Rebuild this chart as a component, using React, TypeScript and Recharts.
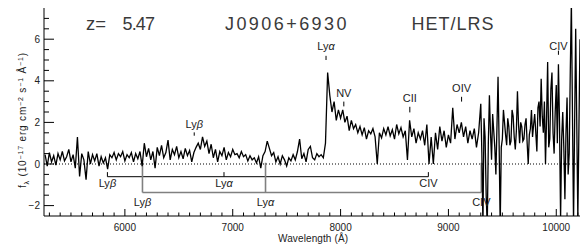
import React from "react"
import { LineChart, Line, XAxis, YAxis, ReferenceLine, ReferenceDot } from "recharts"

// spectrum: [wavelength (A), flux (1e-17 erg/cm2/s/A)]
const spectrumBlue: [number, number][] = [
  [5260, 0.45], [5280, -0.1], [5300, 0.55], [5320, 0.1], [5340, 0.4], [5360, -0.05],
  [5380, 0.5], [5400, 0.2], [5420, 0.6], [5440, 0.15], [5460, 0.35], [5480, 0.7],
  [5500, 0.1], [5520, 0.45], [5540, -0.2], [5560, 1.3], [5580, -0.6], [5600, 0.5],
  [5620, 0.2], [5640, -0.75], [5660, 0.6], [5680, 0.0], [5700, 0.45], [5720, 0.15],
  [5740, 0.5], [5760, -0.1], [5780, 0.35], [5800, 0.05], [5820, 0.3], [5840, -0.25],
]

const spectrumForest: [number, number][] = [
  [5860, 0.45], [5880, 0.3], [5900, 0.55], [5920, 0.2], [5940, 0.5], [5960, 0.35],
  [5980, 0.6], [6000, 0.15], [6020, 0.45], [6040, 0.3], [6060, 0.55], [6080, 0.1],
  [6100, 0.5], [6120, 0.25], [6140, 0.6], [6160, -0.1], [6180, 1.0], [6200, 0.35],
  [6220, 0.75], [6240, 0.2], [6260, 0.6], [6280, -0.2], [6300, 0.8], [6320, 0.4],
  [6340, 0.9], [6360, 0.3], [6380, 0.55], [6400, 1.15], [6420, 0.2], [6440, 0.7],
  [6460, 0.45], [6480, 0.85], [6500, 0.3], [6520, 0.6], [6540, 0.25], [6560, 0.75],
  [6580, 0.4], [6600, 0.65], [6620, 0.1], [6640, 0.55], [6660, 0.8], [6680, 1.0],
  [6700, 0.7], [6720, 1.3], [6740, 0.85], [6760, 1.1], [6780, 0.5], [6800, 0.95],
  [6820, 0.3], [6840, 0.7], [6860, 0.1], [6880, 0.6], [6900, 0.4], [6920, 0.8],
  [6940, 0.2], [6960, 0.55], [6980, 0.35], [7000, 0.7], [7020, 0.45], [7040, 0.5],
  [7060, 0.3], [7080, 0.6], [7100, 0.35], [7120, 0.45], [7140, 0.15], [7160, 0.4],
  [7180, 0.2], [7200, 0.3], [7220, 0.05], [7240, 0.35], [7260, -0.2], [7280, 0.4],
  [7300, 0.6], [7320, 1.1], [7340, 0.75], [7360, 0.4], [7380, 0.55], [7400, 0.1],
  [7420, 0.35], [7440, 0.0], [7460, 0.4], [7480, 0.2], [7500, -0.1], [7520, 0.3],
  [7540, 0.15], [7560, 0.45], [7580, 0.2], [7600, 0.6], [7620, 1.2], [7640, 0.25],
  [7660, 0.5], [7680, 0.1], [7700, 0.7], [7720, 0.85], [7740, 0.3], [7760, 0.2],
  [7780, 0.5], [7800, 0.35], [7820, 0.45], [7840, 0.3],
]

const spectrumLya: [number, number][] = [
  [7860, 1.0], [7880, 4.4], [7900, 3.3], [7920, 2.5], [7940, 3.0], [7960, 2.1],
  [7980, 2.6], [8000, 2.2], [8020, 2.6], [8040, 2.0], [8060, 2.3], [8080, 1.6],
  [8100, 2.1], [8120, 1.7], [8140, 1.9], [8160, 1.5], [8180, 1.8], [8200, 1.4],
  [8220, 1.75], [8240, 1.2], [8260, 1.6], [8280, 1.45], [8300, 1.7], [8320, 1.3],
  [8340, 0.0], [8360, 1.5], [8380, 1.25], [8400, 1.7], [8420, 1.4], [8440, 1.8],
  [8460, 1.35], [8480, 1.65], [8500, 1.2], [8520, 1.9], [8540, 1.45], [8560, 1.75],
  [8580, 1.3], [8600, 1.6],
]

const spectrumRed: [number, number][] = [
  [8620, 0.2], [8640, 2.1], [8660, 1.3], [8680, 1.7], [8700, 1.0], [8720, 1.5],
  [8740, 1.2], [8760, 1.6], [8780, 0.9], [8800, 1.9], [8820, 0.0], [8840, 1.3],
  [8860, 0.0], [8880, 1.5], [8900, 0.7], [8920, 1.8], [8940, 1.1], [8960, 1.6],
  [8980, 0.8], [9000, 1.4], [9020, 1.0], [9040, 2.7], [9060, 1.2], [9080, 1.9],
  [9100, 1.5], [9120, 2.0], [9140, 1.3], [9160, 1.8], [9180, 1.0], [9200, 1.6],
  [9220, 1.2], [9240, 1.7], [9260, 0.8], [9280, 1.5],
]

const spectrumNoisy: [number, number][] = [
  [9300, 2.9], [9310, 0.5], [9320, -3.0], [9330, 2.2], [9340, 1.3], [9350, -1.5],
  [9360, -3.0], [9370, 1.0], [9380, 3.3], [9390, 1.5], [9400, 0.2], [9410, 2.4],
  [9420, 1.6], [9430, 0.8], [9440, -0.5], [9450, 1.8], [9460, 4.2], [9470, 1.0],
  [9480, -3.0], [9490, 0.8], [9500, 1.2], [9510, 2.6], [9520, 2.0], [9530, 1.4],
  [9540, 0.9], [9550, 2.2], [9560, 1.8], [9570, 0.9], [9580, 1.1], [9590, 2.6],
  [9600, 2.3], [9610, 1.3], [9620, 0.7], [9630, 1.6], [9640, 3.5], [9650, 1.9],
  [9660, 1.0], [9670, 2.0], [9680, 1.8], [9690, 1.1], [9700, 1.2], [9710, 1.9],
  [9720, 2.2], [9730, 1.0], [9740, 0.0], [9750, 1.4], [9760, 1.7], [9770, 2.6],
  [9780, 1.3], [9790, 1.9], [9800, 2.4], [9810, 1.5], [9820, 0.6], [9830, 2.7],
  [9840, 3.0], [9850, 1.8], [9860, 4.1], [9870, 2.3], [9880, 1.5], [9890, 3.0],
  [9900, 0.0], [9910, 2.2], [9920, 4.9], [9930, 0.8], [9940, 1.2], [9950, 3.6],
  [9960, 4.4], [9970, 1.5], [9980, 0.5], [9990, 2.5], [10000, 3.8], [10010, 1.0],
  [10020, 4.8], [10030, 2.0], [10040, -2.6], [10050, 1.2], [10060, 2.5], [10070, 0.8],
  [10080, -1.7], [10090, 1.5], [10100, 3.2], [10110, -0.5], [10120, 0.5], [10130, 4.5],
  [10140, 7.8], [10160, -2.8], [10180, 6.5], [10200, -2.6], [10220, 6.0],
]

const xMajorTicks = [6000, 7000, 8000, 9000, 10000]
const yMajorTicks = [-2, 0, 2, 4, 6]
const xAllTicks = Array.from({ length: 50 }, (_, i) => 5300 + i * 100)
const yAllTicks = Array.from({ length: 19 }, (_, i) => -2 + i * 0.5)

// emission lines at the quasar redshift
const emissionLines = [
  { name: "Ly", greek: "β", wave: 6643, labelY: 1.74, tick: [1.36, 1.52] },
  { name: "Ly", greek: "α", wave: 7865, labelY: 5.49, tick: [5.0, 5.2] },
  { name: "NV", greek: "", wave: 8030, labelY: 3.23, tick: [2.77, 3.0] },
  { name: "CII", greek: "", wave: 8642, labelY: 2.96, tick: [2.48, 2.75] },
  { name: "OIV", greek: "", wave: 9122, labelY: 3.44, tick: [3.0, 3.23] },
  { name: "CIV", greek: "", wave: 10020, labelY: 5.5, tick: [5.25, 5.45] },
]

// intervening absorption systems
const absNames = [["Ly", "β"], ["Ly", "α"], ["CIV", ""]]
const absSystems = [
  { waves: [5838, 6919, 8814], bar: -0.61, tickTop: -0.39, labelY: -1.1, color: "#000", width: 1 },
  { waves: [6163, 7304, 9305], bar: -1.37, tickTop: 0.06, labelY: -2.0, color: "#808080", width: 1.6 },
]

const font = "'Liberation Sans', Arial, sans-serif"

const data = [...spectrumBlue, ...spectrumForest, ...spectrumLya, ...spectrumRed, ...spectrumNoisy]
  .map(([wave, flux]) => ({ wave, flux }))

const BottomTick = (p: any) => {
  const major = xMajorTicks.includes(p.payload.value)
  return (
    <g>
      <line x1={p.x} x2={p.x} y1={p.y} y2={p.y - (major ? 7 : 3.5)} stroke="#000" />
      {major ? (
        <text x={p.x} y={p.y + 15} textAnchor="middle" fontSize={10} fill="#222" fontFamily={font}>
          {p.payload.value}
        </text>
      ) : null}
    </g>
  )
}

const TopTick = (p: any) => {
  const major = xMajorTicks.includes(p.payload.value)
  return <line x1={p.x} x2={p.x} y1={p.y} y2={p.y + (major ? 7 : 3.5)} stroke="#000" />
}

const LeftTick = (p: any) => {
  const major = yMajorTicks.includes(p.payload.value)
  return (
    <g>
      <line x1={p.x} x2={p.x + (major ? 10 : 5)} y1={p.y} y2={p.y} stroke="#000" />
      {major ? (
        <text x={p.x - 4} y={p.y + 3.5} textAnchor="end" fontSize={10} fill="#222" fontFamily={font}>
          {p.payload.value < 0 ? "−" + Math.abs(p.payload.value) : p.payload.value}
        </text>
      ) : null}
    </g>
  )
}

const RightTick = (p: any) => {
  const major = yMajorTicks.includes(p.payload.value)
  return <line x1={p.x} x2={p.x - (major ? 10 : 5)} y1={p.y} y2={p.y} stroke="#000" />
}

const lineLabel = (name: string, greek: string, size: number) => (p: any) => (
  <text x={p.cx} y={p.cy} textAnchor="middle" fontSize={size} fill="#222" fontFamily={font}>
    {name}
    {greek ? <tspan fontStyle="italic">{greek}</tspan> : null}
  </text>
)

export default function App() {
  const refs: React.ReactNode[] = []

  emissionLines.forEach((l, i) => {
    refs.push(
      <ReferenceLine key={"et" + i} xAxisId="x" yAxisId="y" stroke="#000" strokeWidth={1}
        segment={[{ x: l.wave, y: l.tick[0] }, { x: l.wave, y: l.tick[1] }]} />
    )
    refs.push(
      <ReferenceDot key={"el" + i} xAxisId="x" yAxisId="y" x={l.wave} y={l.labelY} r={0}
        shape={lineLabel(l.name, l.greek, 11)} />
    )
  })

  absSystems.forEach((s, i) => {
    refs.push(
      <ReferenceLine key={"ab" + i} xAxisId="x" yAxisId="y" stroke={s.color} strokeWidth={s.width}
        segment={[{ x: s.waves[0], y: s.bar }, { x: s.waves[2], y: s.bar }]} />
    )
    s.waves.forEach((w, j) => {
      refs.push(
        <ReferenceLine key={"av" + i + j} xAxisId="x" yAxisId="y" stroke={s.color} strokeWidth={s.width}
          segment={[{ x: w, y: s.bar }, { x: w, y: s.tickTop }]} />
      )
      refs.push(
        <ReferenceDot key={"al" + i + j} xAxisId="x" yAxisId="y" x={w} y={s.labelY} r={0}
          shape={lineLabel(absNames[j][0], absNames[j][1], 11)} />
      )
    })
  })

  return (
    <div style={{ position: "absolute", left: 0, top: 0, width: 582, height: 246, background: "#fff" }}>
      <LineChart width={582} height={246} data={data} margin={{ top: 8, right: 2, bottom: 0, left: 0 }}>
        <XAxis xAxisId="top" orientation="top" type="number" dataKey="wave" domain={[5250, 10220]}
          allowDataOverflow ticks={xAllTicks} interval={0} height={0} tickSize={0} tickMargin={0}
          tickLine={false} tick={<TopTick />} axisLine={{ stroke: "#000" }} />
        <XAxis xAxisId="x" type="number" dataKey="wave" domain={[5250, 10220]} allowDataOverflow
          ticks={xAllTicks} interval={0} height={30} tickSize={0} tickMargin={0} tickLine={false}
          tick={<BottomTick />} axisLine={{ stroke: "#000" }} />
        <YAxis yAxisId="y" type="number" domain={[-2.5, 7.5]} allowDataOverflow ticks={yAllTicks}
          interval={0} width={44} tickSize={0} tickMargin={0} tickLine={false} tick={<LeftTick />}
          axisLine={{ stroke: "#000" }} />
        <YAxis yAxisId="right" orientation="right" type="number" domain={[-2.5, 7.5]} allowDataOverflow
          ticks={yAllTicks} interval={0} width={0} tickSize={0} tickMargin={0} tickLine={false}
          tick={<RightTick />} axisLine={{ stroke: "#000" }} />
        <ReferenceLine xAxisId="x" yAxisId="y" y={0} stroke="#000" strokeDasharray="1 2" />
        {refs}
        <Line xAxisId="x" yAxisId="y" type="linear" dataKey="flux" stroke="#000" strokeWidth={1.3}
          dot={false} isAnimationActive={false} />
      </LineChart>
      <svg width={582} height={246} style={{ position: "absolute", left: 0, top: 0, pointerEvents: "none" }}>
        <g fontFamily={font} fill="#3a3a3a" fontSize={18}>
          <text x={86} y={30} textLength={20} lengthAdjust="spacingAndGlyphs">z=</text>
          <text x={122.5} y={30} textLength={32.5} lengthAdjust="spacing">5.47</text>
          <text x={225} y={30} textLength={121.5} lengthAdjust="spacing">J0906+6930</text>
          <text x={411.5} y={30} textLength={82} lengthAdjust="spacing">HET/LRS</text>
        </g>
        <text x={278} y={242} textLength={70} lengthAdjust="spacing" fontFamily={font} fontSize={10} fill="#222">
          Wavelength (Å)
        </text>
        <text x={26} y={188} transform="rotate(-90 26 188)" fontFamily={font} fontSize={10} fill="#222"
          textLength={135} lengthAdjust="spacing">
          f<tspan dy={2.5} fontSize={7}>λ</tspan>
          <tspan dy={-2.5}> (10</tspan>
          <tspan dy={-3.5} fontSize={7}>−17</tspan>
          <tspan dy={3.5}> erg cm</tspan>
          <tspan dy={-3.5} fontSize={7}>−2</tspan>
          <tspan dy={3.5}> s</tspan>
          <tspan dy={-3.5} fontSize={7}>−1</tspan>
          <tspan dy={3.5}> Å</tspan>
          <tspan dy={-3.5} fontSize={7}>−1</tspan>
          <tspan dy={3.5}>)</tspan>
        </text>
      </svg>
    </div>
  )
}
